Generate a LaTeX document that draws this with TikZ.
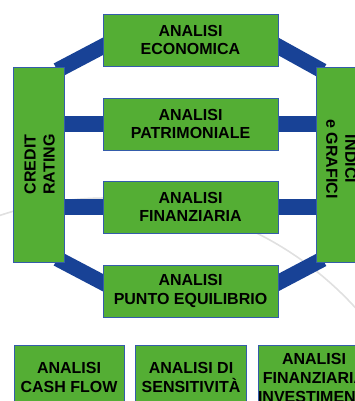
\documentclass[tikz,border=0pt]{standalone}
\usepackage{fontspec}
\setmainfont{Liberation Sans}
\usepackage{xcolor}
\usetikzlibrary{positioning,backgrounds}

\definecolor{boxgreen}{RGB}{84,174,52}
\definecolor{bandblue}{RGB}{24,66,150}
\definecolor{edgeblue}{RGB}{52,92,170}

\begin{document}
\begin{tikzpicture}[
    x=1pt, y=-1pt,
    box/.style={rectangle, draw=edgeblue, line width=0.8pt, fill=boxgreen, inner sep=0pt,
      align=center, font=\fontsize{16}{18.5}\selectfont\bfseries},
    midbox/.style={box, minimum width=175pt, minimum height=52pt},
    sidebox/.style={box, minimum width=51pt, minimum height=195pt},
    lowbox/.style={box, minimum width=111pt, minimum height=65pt,
      font=\fontsize{16}{19}\selectfont\bfseries},
    sidetext/.style={align=center, inner sep=0pt, font=\fontsize{16}{19}\selectfont\bfseries},
    band/.style={draw=bandblue, line width=15.5pt},
    slant/.style={band, shorten <=-8pt, shorten >=-8pt}
  ]
  \useasboundingbox (0,0) rectangle (355,401);
  \clip (0,0) rectangle (355,401);

  % central column
  \node[midbox] (econ)   at (190.5, 40)  {ANALISI\\ECONOMICA};
  \node[midbox] (patr)   at (190.5, 124) {ANALISI\\PATRIMONIALE};
  \node[midbox] (finanz) at (190.5, 207) {ANALISI\\FINANZIARIA};
  \node[midbox] (punto)  at (190.5, 291) {ANALISI\\PUNTO EQUILIBRIO};

  % side columns
  \node[sidebox] (credit) at (38.5, 164.5) {};
  \node[sidetext, rotate=90] (creditlbl) at ([xshift=1pt]credit.center) {CREDIT\\RATING};
  \node[sidebox] (indici) at (341.5, 165) {};
  \node[sidetext, rotate=-90] (indicilbl) at ([yshift=6pt]indici.center) {INDICI\\e GRAFICI};

  % bottom row
  \node[lowbox, minimum width=110pt] (cash) at (69, 377.5) {ANALISI\\CASH FLOW};
  \node[lowbox] (sens)   at (191, 377.5) {ANALISI DI\\SENSITIVIT\`A};
  \node[lowbox] (fininv) at (314, 377.5) {ANALISI\\FINANZIARIA\\INVESTIMENTI};

  \begin{scope}[on background layer]
    % faint arc behind the chart
    \draw[black!12, line width=1.6pt] (107, 534) circle[radius=336pt];
    \draw[slant] (credit.north east) -- ([yshift=-6.5pt]econ.west);
    \draw[slant] ([yshift=-6.5pt]econ.east) -- (indici.north west);
    \draw[slant] (credit.south east) -- ([yshift=8.5pt]punto.west);
    \draw[slant] ([yshift=8.5pt]punto.east) -- (indici.south west);
    \draw[band] (credit.east |- patr.west) -- (patr.west);
    \draw[band] (patr.east) -- (patr.east -| indici.west);
    \draw[band] (credit.east |- finanz.west) -- (finanz.west);
    \draw[band] (finanz.east) -- (finanz.east -| indici.west);
  \end{scope}
\end{tikzpicture}
\end{document}
